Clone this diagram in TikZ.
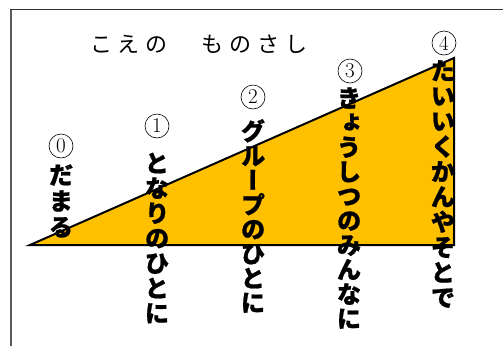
\documentclass[tikz,border=0pt]{standalone}
\usepackage{fontspec}
\newfontfamily\jpfont{Noto Sans CJK JP}[RawFeature=+vert, BoldFeatures={FakeBold=0.8}]
\newfontfamily\jptitle{Noto Sans CJK JP}
\definecolor{gold}{RGB}{255,192,0}
\definecolor{framegray}{RGB}{90,90,90}
\newcommand\tch[1]{\makebox[28pt]{#1}}
\tikzset{
  vtext/.style={font=\jpfont\bfseries\fontsize{24.5}{#1}\selectfont, align=center, inner sep=0pt, text=black},
  num/.style={circle, draw, line width=0.6pt, inner sep=0pt, minimum size=24pt, font=\fontsize{21}{21}\selectfont},
  frameline/.style={draw=framegray},
  wedge/.style={fill=gold, draw=black, line width=2pt, line join=miter}
}
\begin{document}
\begin{tikzpicture}[x=1pt,y=-1pt]
\useasboundingbox (0,0) rectangle (503,346);
% frame
\draw[frameline, line width=2pt] (11,346) -- (11,9.5);
\draw[black!80, line width=1pt] (10,9.5) -- (503,9.5);
% title
\node[font=\jptitle\fontsize{22}{22}\selectfont, inner sep=0pt] (title) at (199,44)
  {\tch{こ}\tch{え}\tch{の}\tch{　}\tch{も}\tch{の}\tch{さ}\tch{し}};
% wedge
\coordinate (A) at (30,245);
\coordinate (B) at (454,245);
\coordinate (C) at (454,58);
\filldraw[wedge] (A) -- (B) -- (C) -- cycle;
% circled numbers
\node[num] (n0) at (61,146) {0};
\node[num] (n1) at (157,126) {1};
\node[num] (n2) at (253,97) {2};
\node[num] (n3) at (350,71) {3};
\node[num] (n4) at (444,43) {4};
% vertical labels
\node[vtext=26] (t0) at (61,201) {だ\\ま\\る};
\node[vtext=25] (t1) at (157,238) {と\\な\\り\\の\\ひ\\と\\に};
\node[vtext=24.5] (t2) at (253,216) {グ\\ル\\ー\\プ\\の\\ひ\\と\\に};
\node[vtext=24.5] (t3) at (349,208) {き\\ょ\\う\\し\\つ\\の\\み\\ん\\な\\に};
\node[vtext=25.2] (t4) at (443,184) {た\\い\\い\\く\\か\\ん\\や\\そ\\と\\で};
\end{tikzpicture}
\end{document}
